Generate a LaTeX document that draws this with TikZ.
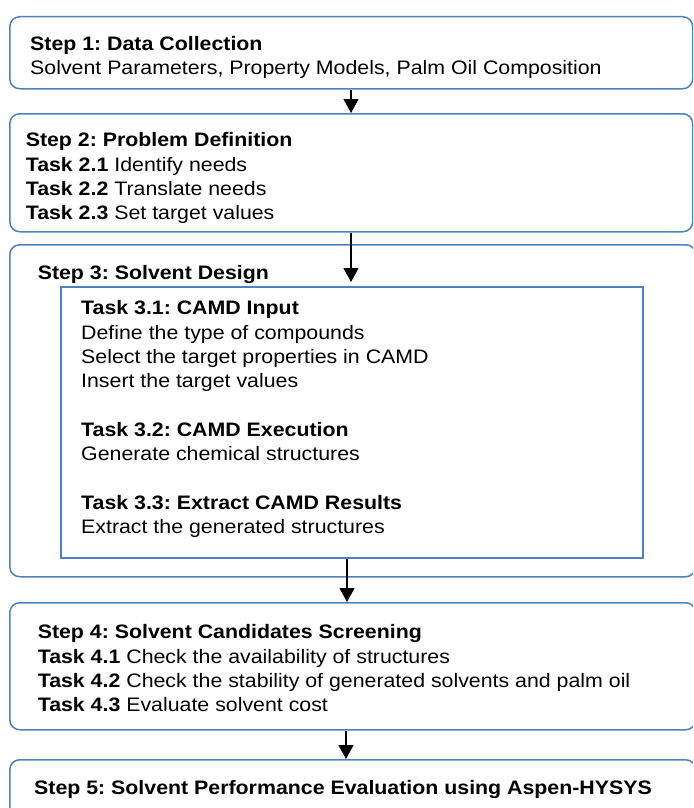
\documentclass[tikz,border=0pt]{standalone}
\usepackage{fontspec}
\setmainfont[FakeStretch=1.094]{Liberation Sans}
\usetikzlibrary{arrows.meta}
\definecolor{boxblue}{HTML}{4F81BD}
\frenchspacing
\begin{document}
\begin{tikzpicture}[x=1pt,y=1pt,
  stepbox/.style={draw=boxblue, line width=1.5pt, rounded corners=10pt, inner sep=0pt, anchor=north west},
  innerbox/.style={draw=boxblue, line width=1.5pt, inner sep=0pt, anchor=north west},
  txt/.style={anchor=north west, inner sep=0pt, align=left, font=\fontsize{19.5}{24.3}\selectfont\frenchspacing},
  arr/.style={draw=black, line width=1.2pt, -{Triangle[width=15pt,length=14pt]}}]
\useasboundingbox (0,0) rectangle (693,-808);
\clip (0,0) rectangle (693,-808);
% boxes
\node[stepbox, minimum width=683pt, minimum height=72pt] (b1) at (9,-16) {};
\node[stepbox, minimum width=683pt, minimum height=118pt] (b2) at (9,-113) {};
\node[stepbox, minimum width=686pt, minimum height=332pt] (b3) at (9,-244) {};
\node[innerbox, minimum width=582pt, minimum height=271pt] (inner) at (60,-286) {};
\node[stepbox, minimum width=686pt, minimum height=127pt] (b4) at (9,-602) {};
\node[stepbox, minimum width=686pt, minimum height=100pt] (b5) at (9,-759) {};
% texts
\node[txt] (t1) at (30,-33) {\strut\textbf{Step 1: Data Collection}\\
Solvent Parameters, Property Models, Palm Oil Composition};
\node[txt] (t2) at (25.6,-129.5) {\strut\textbf{Step 2: Problem Definition}\\
\textbf{Task 2.1} Identify needs\\
\textbf{Task 2.2} Translate needs\\
\textbf{Task 2.3} Set target values};
\node[txt] (t3) at (37.6,-262.5) {\strut\textbf{Step 3: Solvent Design}};
\node[txt] (t3i) at (81,-297.5) {\strut\textbf{Task 3.1: CAMD Input}\\
Define the type of compounds\\
Select the target properties in CAMD\\
Insert the target values\\[24.3pt]
\textbf{Task 3.2: CAMD Execution}\\
Generate chemical structures\\[24.3pt]
\textbf{Task 3.3: Extract CAMD Results}\\
Extract the generated structures};
\node[txt] (t4) at (37.6,-621.5) {\strut\textbf{Step 4: Solvent Candidates Screening}\\
\textbf{Task 4.1} Check the availability of structures\\
\textbf{Task 4.2} Check the stability of generated solvents and palm oil\\
\textbf{Task 4.3} Evaluate solvent cost};
\node[txt] (t5) at (34,-777) {\strut\textbf{Step 5: Solvent Performance Evaluation using Aspen-HYSYS}};
% arrows
\coordinate (x1) at (351,0);
\coordinate (x3) at (347,0);
\coordinate (x4) at (346,0);
\draw[arr] (b1.south -| x1) -- (b2.north -| x1);
\draw[arr, shorten >=4pt] (b2.south -| x1) -- (inner.north -| x1);
\draw[arr] (inner.south -| x3) -- (b4.north -| x3);
\draw[arr] (b4.south -| x4) -- (b5.north -| x4);
\end{tikzpicture}
\end{document}
